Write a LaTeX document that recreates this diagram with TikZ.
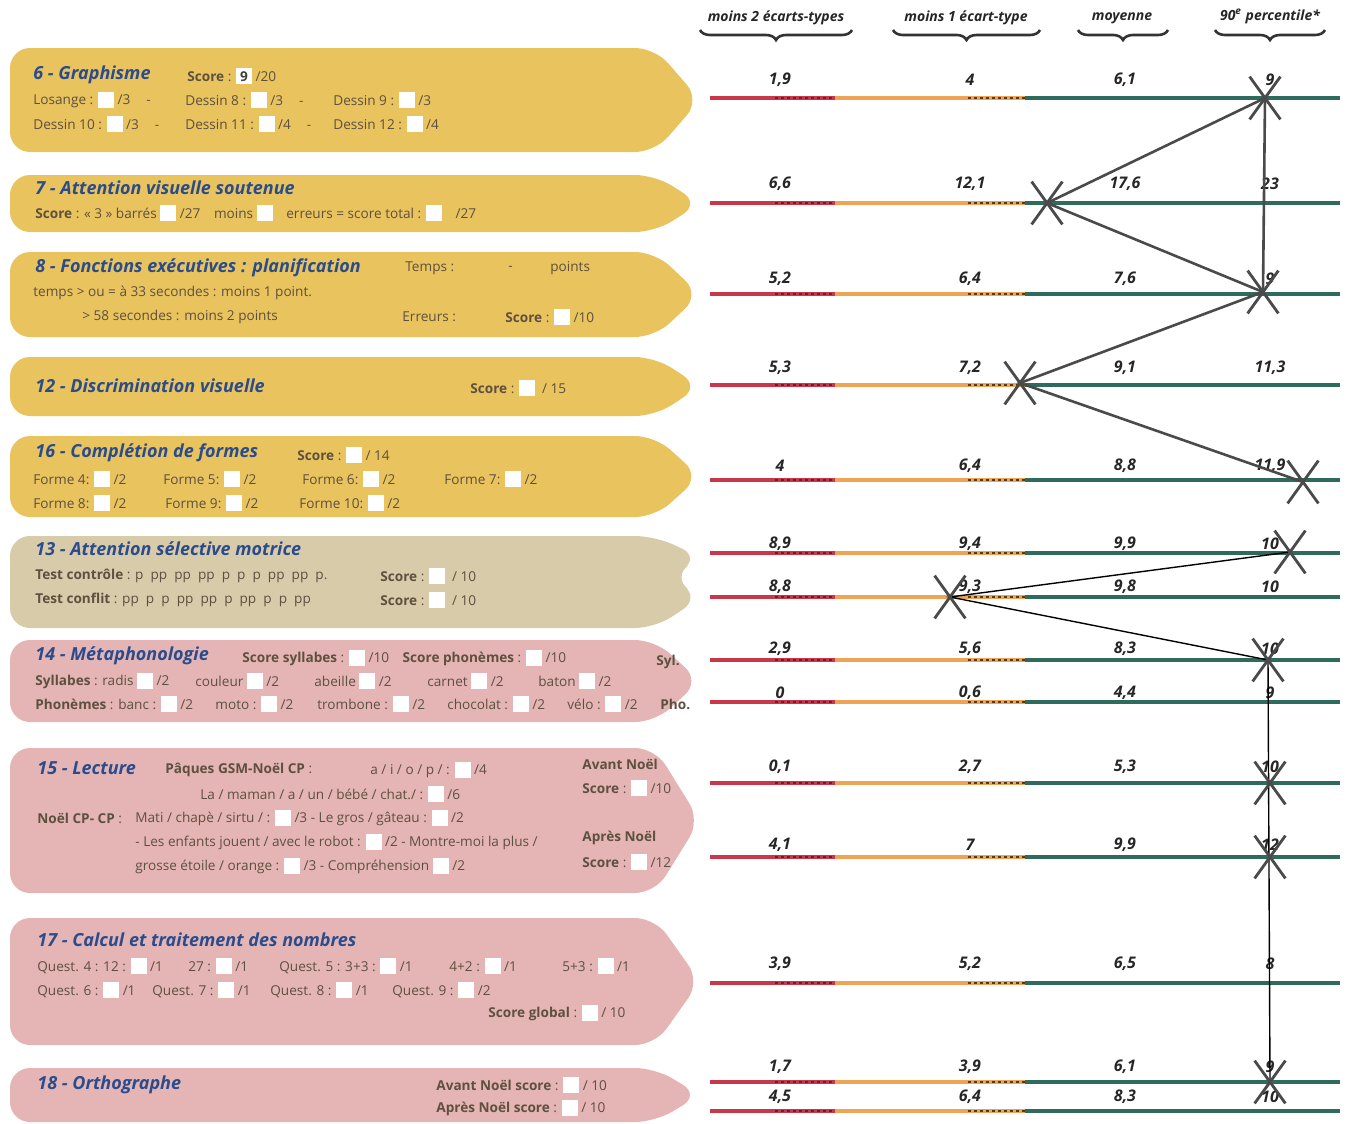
\documentclass[tikz,border=0pt]{standalone}
\usepackage{fontspec}
\setmainfont{Open Sans}
\usetikzlibrary{decorations.pathreplacing,shapes.misc}

\definecolor{panelyel}{HTML}{E8C35E}
\definecolor{panelbei}{HTML}{D8CBAA}
\definecolor{panelpnk}{HTML}{E4B5B4}
\definecolor{titleblue}{HTML}{2B4C8C}
\definecolor{bodybrown}{HTML}{5E5040}
\definecolor{scalered}{HTML}{C8374A}
\definecolor{scaleorange}{HTML}{EFA455}
\definecolor{scaleteal}{HTML}{2F6B5C}
\definecolor{pencil}{HTML}{4A4A4A}

% white answer box inside the text
\newcommand\bx{{\color{white}\rule[-1.5pt]{8pt}{8pt}}}
% arrow shaped band: top, bottom, colour
\newcommand\panel[3]{\fill[#3, rounded corners=10pt] (10,#1) -- (655,#1) -- (700,{(#1+#2)/2}) -- (655,#2) -- (10,#2) -- cycle;}

\tikzset{
  ttl/.style={anchor=west, inner sep=0pt, text=titleblue, font=\fontsize{9}{11}\selectfont\bfseries\itshape},
  txt/.style={anchor=west, inner sep=0pt, text=bodybrown, font=\fontsize{6.8}{8}\selectfont},
  num/.style={inner sep=0pt, text=black!85, font=\fontsize{8}{9}\selectfont\bfseries\itshape},
  hdr/.style={inner sep=0pt, text=black!85, font=\fontsize{7}{9}\selectfont\bfseries\itshape},
  brc/.style={decorate, decoration={brace, mirror, amplitude=5pt}, line width=1.3pt, draw=black!80},
  xmark/.style={cross out, draw=pencil, line width=1.4pt, minimum width=14pt, minimum height=20pt, inner sep=0pt},
  trace/.style={draw=pencil, line width=1.3pt},
  pen/.style={draw=black, line width=0.7pt},
}

\begin{document}
\begin{tikzpicture}[x=0.5pt, y=-0.5pt]
  \useasboundingbox (0,0) rectangle (1355,1124);

  % bands
  \panel{48}{152}{panelyel}
  \panel{175}{232}{panelyel}
  \panel{252}{337}{panelyel}
  \panel{357}{416}{panelyel}
  \panel{436}{517}{panelyel}
  \fill[panelbei, rounded corners=10pt] (10,536) -- (655,536) -- (700,557) -- (672,577) -- (700,598) -- (655,628) -- (10,628) -- cycle;
  \panel{640}{722}{panelpnk}
  \panel{748}{893}{panelpnk}
  \panel{918}{1045}{panelpnk}
  \panel{1068}{1122}{panelpnk}

  % 6
  \node[ttl] (t6) at (33,75) {6 - Graphisme};
  \node[txt] (s6) at (187,76) {\textbf{Score} : \rlap{\bx}\hbox to 8pt{\hss\color{black!75}\bfseries 9\hss}~/20};
  \node[txt] (a6) at (33,100) {Losange : \bx~/3\hspace{8pt}-};
  \node[txt] (b6) at (185,100) {Dessin 8 : \bx~/3\hspace{8pt}-};
  \node[txt] (c6) at (333,100) {Dessin 9 : \bx~/3};
  \node[txt] (d6) at (33,124) {Dessin 10 : \bx~/3\hspace{8pt}-};
  \node[txt] (e6) at (185,124) {Dessin 11 : \bx~/4\hspace{8pt}-};
  \node[txt] (f6) at (333,124) {Dessin 12 : \bx~/4};

  % 7
  \node[ttl] (t7) at (35,188) {7 - Attention visuelle soutenue};
  \node[txt] (a7) at (35,213) {\textbf{Score} : « 3 » barrés \bx~/27\quad moins \bx\quad erreurs = score total : \bx\quad /27};

  % 8
  \node[ttl] (t8) at (35,268) {8 - Fonctions exécutives : planification};
  \node[txt] (a8) at (405,268) {Temps :};
  \node[txt] (b8) at (508,268) {-};
  \node[txt] (c8) at (550,268) {points};
  \node[txt] (d8) at (33,293) {temps > ou = à 33 secondes : moins 1 point.};
  \node[txt] (e8) at (82,317) {> 58 secondes : moins 2 points};
  \node[txt] (f8) at (402,317) {Erreurs :};
  \node[txt] (g8) at (505,317) {\textbf{Score} : \bx~/10};

  % 12
  \node[ttl] (t12) at (35,386) {12 - Discrimination visuelle};
  \node[txt] (a12) at (470,388) {\textbf{Score} : \bx~~/ 15};

  % 16
  \node[ttl] (t16) at (35,453) {16 - Complétion de formes};
  \node[txt] (a16) at (297,455) {\textbf{Score} : \bx~/ 14};
  \foreach \n/\x/\y in {4/33/479, 5/163/479, 6/302/479, 7/444/479, 8/33/503, 9/165/503, 10/299/503}
    \node[txt] (f\n) at (\x,\y) {Forme \n : \bx~/2};

  % 13
  \node[ttl] (t13) at (35,549) {13 - Attention sélective motrice};
  \node[txt] (a13) at (35,576) {\textbf{Test contrôle} : p\ \ pp\ \ pp\ \ pp\ \ p\ \ p\ \ p\ \ pp\ \ pp\ \ p.};
  \node[txt] (b13) at (380,576) {\textbf{Score} : \bx~~/ 10};
  \node[txt] (c13) at (35,600) {\textbf{Test conflit} : pp\ \ p\ \ p\ \ pp\ \ pp\ \ p\ \ pp\ \ p\ \ p\ \ pp};
  \node[txt] (d13) at (380,600) {\textbf{Score} : \bx~~/ 10};

  % 14
  \node[ttl] (t14) at (35,656) {14 - Métaphonologie};
  \node[txt] (a14) at (242,658) {\textbf{Score syllabes} : \bx~/10\quad\textbf{Score phonèmes} : \bx~/10};
  \node[txt] (s14) at (656,662) {\textbf{Syl.}};
  \node[txt] (b14) at (35,681) {\textbf{Syllabes} : radis \bx~/2};
  \node[txt] (c14) at (195,681) {couleur \bx~/2};
  \node[txt] (d14) at (314,681) {abeille \bx~/2};
  \node[txt] (e14) at (427,681) {carnet \bx~/2};
  \node[txt] (f14) at (538,681) {baton \bx~/2};
  \node[txt] (g14) at (35,704) {\textbf{Phonèmes} : banc : \bx~/2};
  \node[txt] (h14) at (215,704) {moto : \bx~/2};
  \node[txt] (i14) at (317,704) {trombone : \bx~/2};
  \node[txt] (j14) at (447,704) {chocolat : \bx~/2};
  \node[txt] (k14) at (567,704) {vélo : \bx~/2};
  \node[txt] (p14) at (660,704) {\textbf{Pho.}};

  % 15
  \node[ttl] (t15) at (37,768) {15 - Lecture};
  \node[txt] (a15) at (165,770) {\textbf{Pâques GSM-Noël CP} :};
  \node[txt] (b15) at (370,770) {a / i / o / p / : \bx~/4};
  \node[txt] (c15) at (200,794) {La / maman / a / un / bébé / chat./ : \bx~/6};
  \node[txt] (d15) at (37,818) {\textbf{Noël CP- CP} :};
  \node[txt] (e15) at (135,818) {Mati / chapè / sirtu / : \bx~/3 - Le gros / gâteau : \bx~/2};
  \node[txt] (f15) at (135,842) {- Les enfants jouent / avec le robot : \bx~/2 - Montre-moi la plus /};
  \node[txt] (g15) at (135,866) {grosse étoile / orange : \bx~/3 - Compréhension \bx~/2};
  \node[txt] (h15) at (582,764) {\textbf{Avant Noël}};
  \node[txt] (i15) at (582,788) {\textbf{Score} : \bx~/10};
  \node[txt] (j15) at (582,838) {\textbf{Après Noël}};
  \node[txt] (k15) at (582,862) {\textbf{Score} : \bx~/12};

  % 17
  \node[ttl] (t17) at (37,940) {17 - Calcul et traitement des nombres};
  \node[txt] (a17) at (37,966) {Quest. 4 : 12 : \bx~/1};
  \node[txt] (b17) at (188,966) {27 : \bx~/1};
  \node[txt] (c17) at (279,966) {Quest. 5 : 3+3 : \bx~/1};
  \node[txt] (d17) at (449,966) {4+2 : \bx~/1};
  \node[txt] (e17) at (562,966) {5+3 : \bx~/1};
  \node[txt] (f17) at (37,990) {Quest. 6 : \bx~/1};
  \node[txt] (g17) at (152,990) {Quest. 7 : \bx~/1};
  \node[txt] (h17) at (270,990) {Quest. 8 : \bx~/1};
  \node[txt] (i17) at (392,990) {Quest. 9 : \bx~/2};
  \node[txt] (s17) at (488,1013) {\textbf{Score global} : \bx~/ 10};

  % 18
  \node[ttl] (t18) at (37,1085) {18 - Orthographe};
  \node[txt] (a18) at (436,1085) {\textbf{Avant Noël score} : \bx~/ 10};
  \node[txt] (b18) at (436,1108) {\textbf{Après Noël score} : \bx~/ 10};

  % column heads
  \node[hdr] (h1) at (776,18) {moins 2 écarts-types};
  \node[hdr] (h2) at (966,18) {moins 1 écart-type};
  \node[hdr] (h3) at (1122,18) {moyenne};
  \node[hdr] (h4) at (1270,16) {90\textsuperscript{e} percentile*};
  \draw[brc] (700,30) -- (852,30);
  \draw[brc] (893,30) -- (1040,30);
  \draw[brc] (1078,30) -- (1168,30);
  \draw[brc] (1215,30) -- (1325,30);

  % scales
  \foreach \y/\ly/\a/\b/\c/\d [count=\i] in {98/80/{1,9}/4/{6,1}/9, 203/184/{6,6}/{12,1}/{17,6}/23,
      294/279/{5,2}/{6,4}/{7,6}/9, 385/368/{5,3}/{7,2}/{9,1}/{11,3}, 480/466/4/{6,4}/{8,8}/{11,9},
      553/544/{8,9}/{9,4}/{9,9}/10, 597/587/{8,8}/{9,3}/{9,8}/10, 660/649/{2,9}/{5,6}/{8,3}/10,
      702/693/0/{0,6}/{4,4}/9, 783/767/{0,1}/{2,7}/{5,3}/10, 857/845/{4,1}/7/{9,9}/12,
      983/964/{3,9}/{5,2}/{6,5}/8, 1082/1067/{1,7}/{3,9}/{6,1}/9, 1111/1097/{4,5}/{6,4}/{8,3}/10}
  {
    \draw[scalered, line width=1.6pt] (710,\y) -- (835,\y);
    \draw[scaleorange, line width=1.6pt] (835,\y) -- (1025,\y);
    \draw[scaleteal, line width=1.6pt] (1025,\y) -- (1340,\y);
    \draw[scalered!55!black, line width=0.9pt, dash pattern=on 1.5pt off 1.5pt] (775,\y) -- (835,\y);
    \draw[scaleorange!35!black, line width=0.9pt, dash pattern=on 1.5pt off 1.5pt] (968,\y) -- (1025,\y);
    \node[num] (p\i a) at (780,\ly) {\a};
    \node[num] (p\i b) at (970,\ly) {\b};
    \node[num] (p\i c) at (1125,\ly) {\c};
    \node[num] (p\i d) at (1270,\ly) {\d};
  }

  % pencil marks
  \coordinate (m6) at (1265,98);
  \coordinate (m7) at (1047,203);
  \coordinate (m8) at (1263,292);
  \coordinate (m12) at (1020,383);
  \coordinate (m16) at (1303,482);
  \coordinate (m13a) at (1290,552);
  \coordinate (m13b) at (950,597);
  \coordinate (m14) at (1268,660);
  \coordinate (m15a) at (1270,783);
  \coordinate (m15b) at (1270,857);
  \coordinate (m18) at (1270,1082);

  \draw[trace] (m8) -- (m7) -- (m6) -- (m8) -- (m12) -- (m16);
  \draw[pen] (m13a) -- (m13b) -- (m14) -- (m18);
  \foreach \m in {m6,m7,m8,m12,m16,m13a,m13b,m14,m15a,m15b,m18}
    \node[xmark] (x\m) at (\m) {};
\end{tikzpicture}
\end{document}
